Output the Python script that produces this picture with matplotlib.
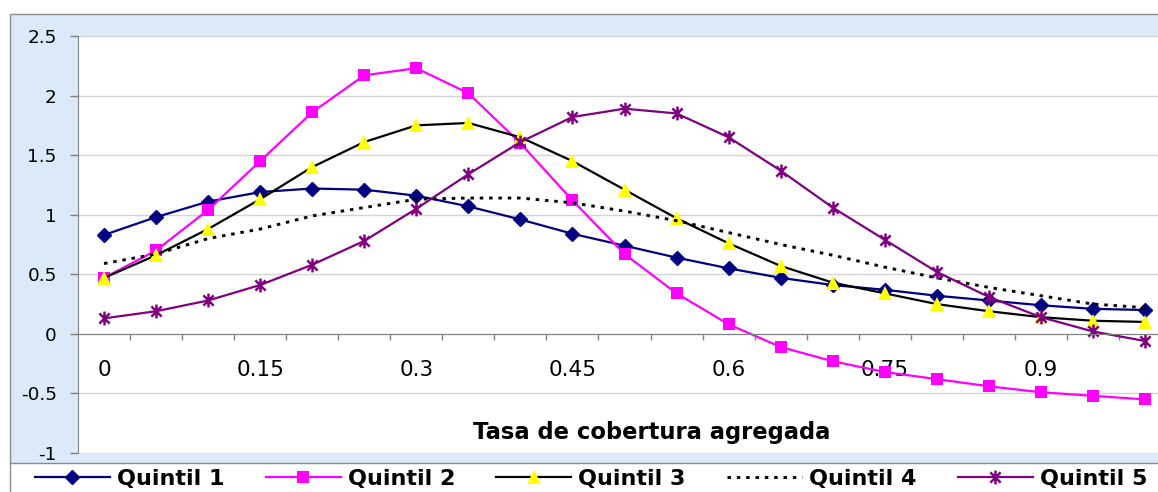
import matplotlib
matplotlib.use('Agg')
import matplotlib.pyplot as plt
from matplotlib.patches import Rectangle
from matplotlib.lines import Line2D
from matplotlib.path import Path

# data
tasa = ['0', '0.05', '0.1', '0.15', '0.2', '0.25', '0.3', '0.35', '0.4', '0.45', '0.5',
        '0.55', '0.6', '0.65', '0.7', '0.75', '0.8', '0.85', '0.9', '0.95', '1']
quintil_1 = [0.83, 0.98, 1.11, 1.19, 1.22, 1.21, 1.16, 1.07, 0.96, 0.84, 0.74,
             0.64, 0.55, 0.47, 0.41, 0.37, 0.32, 0.28, 0.24, 0.21, 0.20]
quintil_2 = [0.47, 0.70, 1.04, 1.45, 1.86, 2.17, 2.23, 2.02, 1.60, 1.12, 0.67,
             0.34, 0.08, -0.11, -0.23, -0.32, -0.38, -0.44, -0.49, -0.52, -0.55]
quintil_3 = [0.47, 0.66, 0.88, 1.13, 1.40, 1.61, 1.75, 1.77, 1.65, 1.45, 1.21,
             0.97, 0.76, 0.57, 0.43, 0.34, 0.25, 0.19, 0.14, 0.11, 0.10]
quintil_4 = [0.59, 0.67, 0.80, 0.88, 0.99, 1.06, 1.13, 1.14, 1.14, 1.10, 1.03,
             0.95, 0.85, 0.75, 0.66, 0.56, 0.47, 0.39, 0.32, 0.25, 0.22]
quintil_5 = [0.13, 0.19, 0.28, 0.41, 0.58, 0.78, 1.05, 1.34, 1.61, 1.82, 1.89,
             1.85, 1.65, 1.37, 1.06, 0.79, 0.52, 0.31, 0.14, 0.02, -0.06]
series_names = ['Quintil 1', 'Quintil 2', 'Quintil 3', 'Quintil 4', 'Quintil 5']

ytick_vals = [-1, -0.5, 0, 0.5, 1, 1.5, 2, 2.5]
ytick_labels = ['-1', '-0.5', '0', '0.5', '1', '1.5', '2', '2.5']

plt.rcParams['font.family'] = ['DejaVu Sans']

W, H = 1158, 492
fig = plt.figure(figsize=(W / 100, H / 100), dpi=100)


def fx(x):
    return x / W


def fy(y):
    return 1 - y / H


# chart area (light blue) and legend strip
fig.patches.append(Rectangle((fx(10), fy(463)), fx(1160) - fx(10), fy(14) - fy(463),
                             transform=fig.transFigure, facecolor='#dce9f8',
                             edgecolor='#8c8c8c', lw=1, zorder=-10))
fig.lines.append(Line2D([fx(10), fx(10)], [fy(463), 0], transform=fig.transFigure,
                        color='#8c8c8c', lw=1, zorder=-9))

ax = fig.add_axes([fx(78), fy(453), 1093 / W, (453 - 36) / H])
ax.set_facecolor('white')

x = list(range(len(tasa)))

star = Path([(-1, -1), (1, 1), (-1, 1), (1, -1), (0, -1.35), (0, 1.35)],
            [Path.MOVETO, Path.LINETO] * 3)

h1, = ax.plot(x, quintil_1, color='#000080', lw=1.6, marker='D', ms=7,
              mfc='#000080', mec='#000080')
h2, = ax.plot(x, quintil_2, color='#ff00ff', lw=1.6, marker='s', ms=8.5,
              mfc='#ff00ff', mec='#ff00ff', mew=0)
h3, = ax.plot(x, quintil_3, color='black', lw=1.6, marker='^', ms=10,
              mfc='#ffff00', mec='#ffff00', mew=0)
h4, = ax.plot(x, quintil_4, color='black', lw=2.1, ls=(0, (1.2, 2.0)))
h5, = ax.plot(x, quintil_5, color='#800080', lw=1.6, marker=star, ms=10,
              mfc='none', mec='#800080', mew=1.8)

ax.set_xlim(-0.5, len(tasa) - 0.5)
ax.set_ylim(-1, 2.5)
ax.set_yticks(ytick_vals)
ax.set_yticklabels(ytick_labels)
ax.yaxis.grid(True, color='#d4d4d4', lw=1)
ax.set_axisbelow(True)

major = list(range(0, len(tasa), 3))
ax.set_xticks(major)
ax.set_xticklabels([tasa[i] for i in major])
ax.set_xticks([i + 0.5 for i in range(len(tasa))], minor=True)
ax.tick_params(axis='x', which='major', length=0, pad=19, labelsize=15.5)
ax.tick_params(axis='x', which='minor', length=4.5, color='#808080', width=1)
ax.tick_params(axis='y', length=5.8, color='#808080', width=1, pad=9.5, labelsize=13.2)

for s in ['top', 'right']:
    ax.spines[s].set_visible(False)
ax.spines['bottom'].set_position(('data', 0))
ax.spines['bottom'].set_color('#808080')
ax.spines['left'].set_color('#808080')

fig.text(fx(652), fy(433), 'Tasa de cobertura agregada', ha='center', va='center',
         fontsize=16.3, fontweight='bold')

fig.legend([h1, h2, h3, h4, h5], series_names, loc='center',
           bbox_to_anchor=(fx(591), fy(479)), ncol=5, frameon=False,
           prop={'size': 16, 'weight': 'bold'}, handlelength=3.38,
           handletextpad=0.32, columnspacing=1.85, numpoints=1,
           borderpad=0, borderaxespad=0)

fig.savefig('out.png', dpi=100)
